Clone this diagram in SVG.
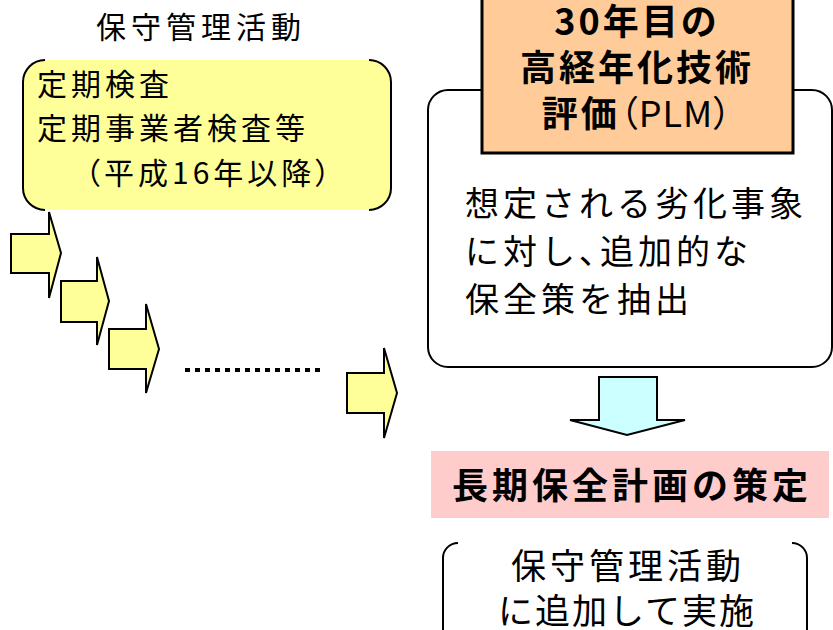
<svg xmlns="http://www.w3.org/2000/svg" width="833" height="630" viewBox="0 0 833 630">
<defs>
<style>
text{font-family:"Noto Sans CJK JP","Noto Sans",sans-serif;fill:#000;}
.n{font-size:30px;letter-spacing:4px;}
.m{font-size:34px;letter-spacing:4px;}
.b{font-size:36px;font-weight:bold;letter-spacing:3px;}
.p{font-feature-settings:"palt";}
.br{fill:none;stroke:#000;stroke-width:2;}
.ya{fill:#FFFF99;stroke:#000;stroke-width:2;stroke-linejoin:miter;}
</style>
</defs>
<rect width="833" height="630" fill="#fff"/>
<g id="title">
<text class="n" x="96" y="38" style="letter-spacing:5px">保守管理活動</text>
</g>
<g id="inspection">
<path d="M45 60 H369 A22 22 0 0 1 391 82 V188 A22 22 0 0 1 369 210 H45 A22 22 0 0 1 23 188 V82 A22 22 0 0 1 45 60 Z" fill="#FFFF99"/>
<path class="br" d="M45 60 A22 22 0 0 0 23 82 V188 A22 22 0 0 0 45 210"/>
<path class="br" d="M369 60 A22 22 0 0 1 391 82 V188 A22 22 0 0 1 369 210"/>
<text class="n" x="37" y="95">定期検査</text>
<text class="n" x="37" y="139">定期事業者検査等</text>
<text class="n" x="85" y="184"><tspan class="p">（</tspan>平成16年以降<tspan class="p">）</tspan></text>
</g>
<g id="connectors">
<polygon class="ya" points="11,234 49,234 49,212 61,253 49,298 49,273 11,273"/>
<polygon class="ya" points="61,281 97,281 97,257 109,301 97,345 97,322 61,322"/>
<polygon class="ya" points="109,329 146,329 146,304 159,349 146,393 146,369 109,369"/>
<line x1="185" y1="370" x2="325" y2="370" stroke="#000" stroke-width="4" stroke-dasharray="5 5"/>
<polygon class="ya" points="347,373 384,373 384,348 397,393 384,438 384,413 347,413"/>
<polygon points="599,377 657,377 657,420 685,420 627,435 570,420 599,420" fill="#CCFFFF" stroke="#000" stroke-width="2"/>
</g>
<g id="plm-box">
<rect x="428" y="90" width="404" height="277" rx="20" ry="20" fill="#fff" stroke="#000" stroke-width="2"/>
<text class="m" x="465" y="216">想定される劣化事象</text>
<text class="m" x="465" y="264">に対し<tspan class="p">、</tspan>追加的な</text>
<text class="m" x="465" y="312">保全策を抽出</text>
</g>
<g id="plm">
<rect x="482" y="-5" width="311" height="158" fill="#FFCC99" stroke="#000" stroke-width="3"/>
<text class="b" x="637" y="35" text-anchor="middle">30年目の</text>
<text class="b" x="637" y="81" text-anchor="middle">高経年化技術</text>
<text class="b" x="637" y="127" text-anchor="middle">評価<tspan font-weight="normal" class="p" style="letter-spacing:1px">（PLM）</tspan></text>
</g>
<g id="plan">
<rect x="431" y="451" width="398" height="67" fill="#FFCCCC"/>
<text class="b" x="632" y="499" text-anchor="middle" style="letter-spacing:4px">長期保全計画の策定</text>
</g>
<g id="implement">
<path class="br" d="M458 543 A15 15 0 0 0 443 558 V640"/>
<path class="br" d="M792 543 A15 15 0 0 1 807 558 V640"/>
<text class="m" x="628" y="579" text-anchor="middle" style="font-size:35px">保守管理活動</text>
<text class="m" x="627" y="624" text-anchor="middle" style="font-size:35px;letter-spacing:2px">に追加して実施</text>
</g>
</svg>
